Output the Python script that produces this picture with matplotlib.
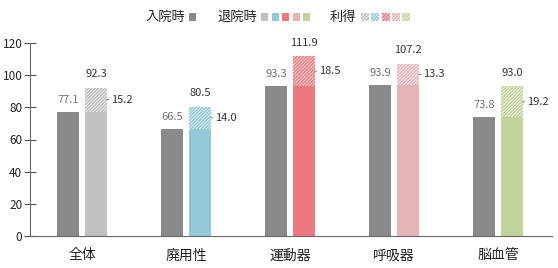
import numpy as np
import matplotlib
matplotlib.use('Agg')
import matplotlib.pyplot as plt
from matplotlib.patches import Rectangle

plt.rcParams['font.family'] = ['Noto Sans CJK JP', 'DejaVu Sans']
plt.rcParams['hatch.linewidth'] = 1.2

# データ
categories = ['全体', '廃用性', '運動器', '呼吸器', '脳血管']
admission = [77.1, 66.5, 93.3, 93.9, 73.8]
discharge = [92.3, 80.5, 111.9, 107.2, 93.0]
gain = [15.2, 14.0, 18.5, 13.3, 19.2]

gray = '#898989'
colors = ['#c0c0c0', '#93c8d8', '#ee7880', '#e4b5b7', '#c1d39a']
HATCH = '//////////'

fig = plt.figure(figsize=(5.58, 2.68), dpi=100)
ax = fig.add_axes([30 / 558, 32 / 268, 522 / 558, 193 / 268])

x = np.arange(len(categories))
w = 0.205
off = 0.135

ax.bar(x - off, admission, w, color=gray, linewidth=0)
for i in range(len(categories)):
    ax.bar(x[i] + off, admission[i], w, color=colors[i], linewidth=0)
    ax.bar(x[i] + off, gain[i], w, bottom=admission[i], facecolor='white',
           edgecolor=colors[i], hatch=HATCH, linewidth=0)

    # ラベル
    ax.annotate(f'{admission[i]:.1f}', (x[i] - off, admission[i]), xytext=(0, 5),
                textcoords='offset points', ha='center', va='bottom',
                fontsize=8, color='#707070')
    ax.annotate(f'{discharge[i]:.1f}', (x[i] + off, discharge[i]), xytext=(0, 6),
                textcoords='offset points', ha='center', va='bottom',
                fontsize=8, color='#333333')
    ax.annotate(f'{gain[i]:.1f}', (x[i] + off + w / 2, admission[i] + gain[i] / 2),
                xytext=(3.5, 0), textcoords='offset points', ha='left', va='center',
                fontsize=8, color='#333333',
                arrowprops=dict(arrowstyle='-', shrinkA=0, shrinkB=0,
                                lw=0.6, color='#555555'))

ax.set_xlim(-0.5, 4.52)
ax.set_ylim(0, 120)
ax.set_yticks(np.arange(0, 121, 20))
ax.set_xticks(x)
ax.set_xticklabels(categories, fontsize=10)
ax.tick_params(axis='x', length=0, pad=9, colors='#222222')
ax.tick_params(axis='y', direction='inout', length=9, width=0.8,
               labelsize=8.5, pad=1, colors='#555555', labelcolor='#222222')
for s in ['top', 'right']:
    ax.spines[s].set_visible(False)
for s in ['left', 'bottom']:
    ax.spines[s].set_color('#666666')
    ax.spines[s].set_linewidth(0.8)

# 凡例
W, H = 558, 268
yc = 17
fig.text(185 / W, 1 - yc / H, '入院時', ha='right', va='center', fontsize=9.5, color='#222222')
fig.add_artist(Rectangle((189 / W, 1 - (yc + 3.5) / H), 7 / W, 7 / H,
                         transform=fig.transFigure, color=gray, lw=0))
fig.text(257 / W, 1 - yc / H, '退院時', ha='right', va='center', fontsize=9.5, color='#222222')
for k, c in enumerate(colors):
    fig.add_artist(Rectangle(((261 + k * 10.5) / W, 1 - (yc + 3.5) / H), 7 / W, 7 / H,
                             transform=fig.transFigure, color=c, lw=0))
fig.text(356 / W, 1 - yc / H, '利得', ha='right', va='center', fontsize=9.5, color='#222222')
for k, c in enumerate(colors):
    fig.add_artist(Rectangle(((361 + k * 10.3) / W, 1 - (yc + 4) / H), 8 / W, 8 / H,
                             transform=fig.transFigure, facecolor='white',
                             edgecolor=c, hatch=HATCH, lw=0))

fig.savefig('out.png', dpi=100)
